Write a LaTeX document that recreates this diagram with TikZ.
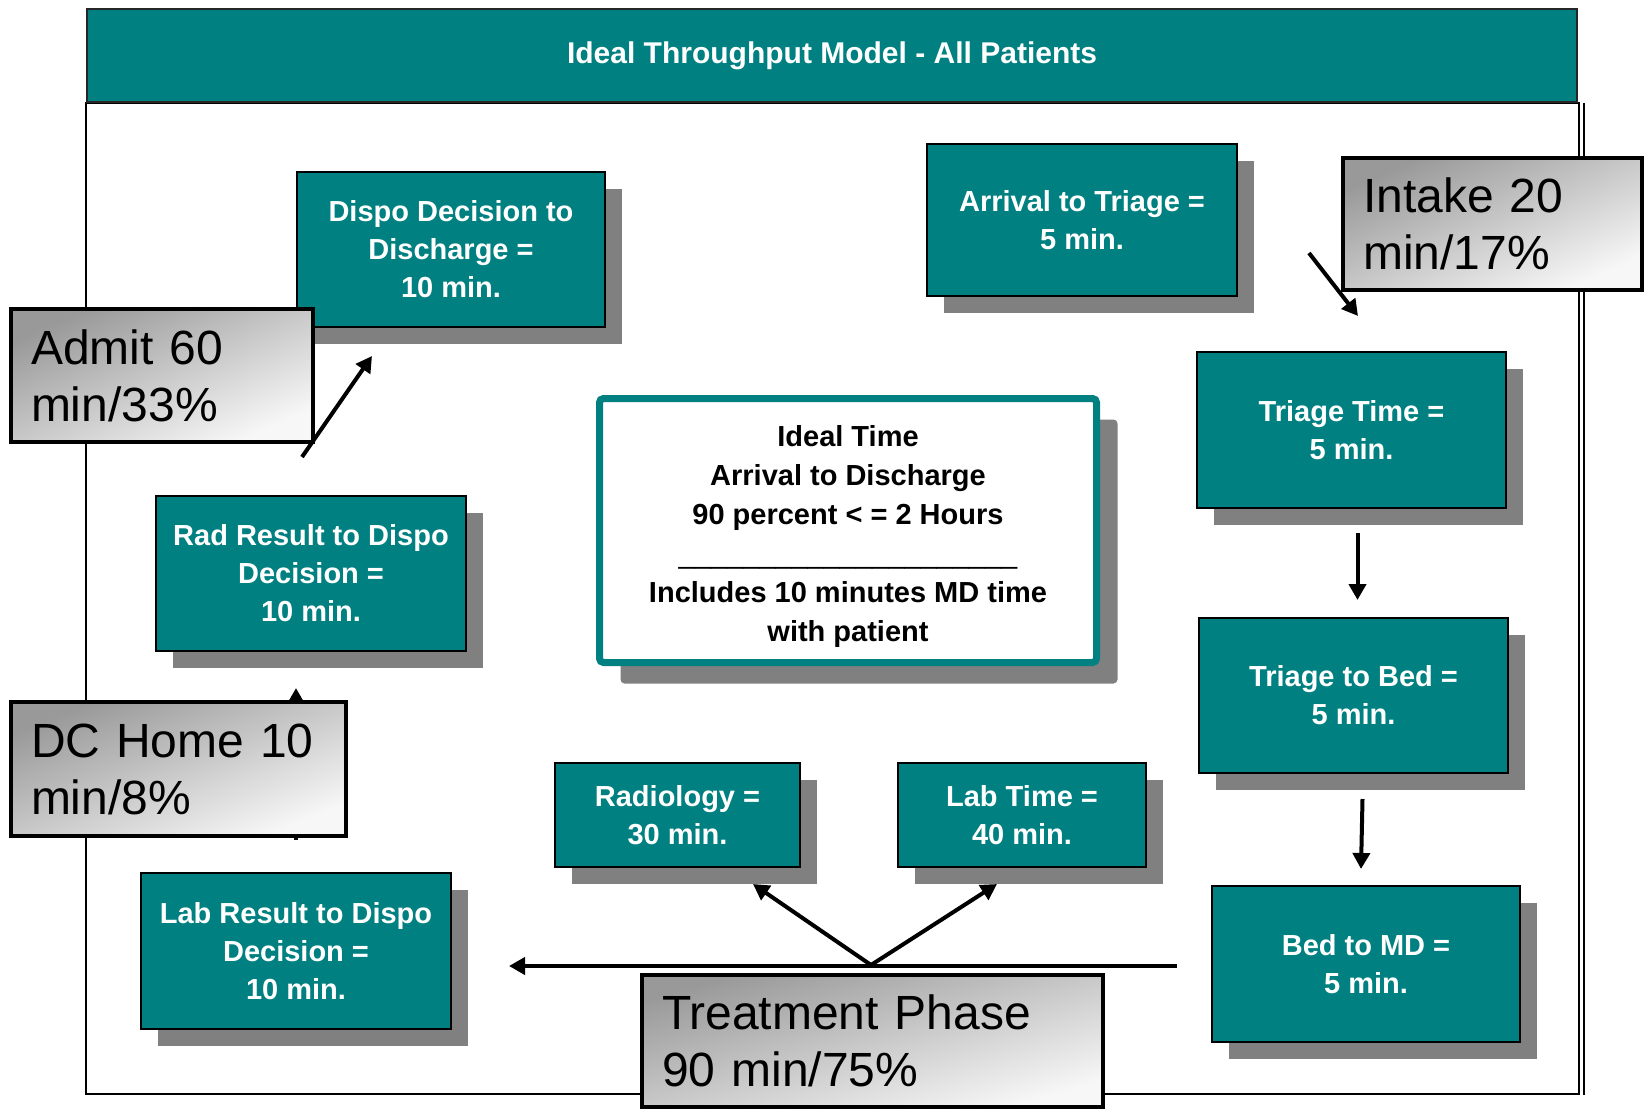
\documentclass[tikz,border=0pt]{standalone}
\usepackage{fontspec}
\setmainfont{Liberation Sans}
\usetikzlibrary{arrows.meta,shadows}

\definecolor{tealfill}{RGB}{0,128,128}
\definecolor{shadowgray}{RGB}{128,128,128}

\tikzset{
  stagebox/.style={draw=black, line width=2pt, fill=tealfill, text=white,
    font=\fontsize{29}{38}\selectfont\bfseries, align=center,
    anchor=north west, inner sep=0pt,
    drop shadow={shadow xshift=17pt, shadow yshift=-17pt, fill=shadowgray, opacity=1}},
  phasebox/.style={draw=black, line width=4pt, top color=black!40, bottom color=black!3,
    shading angle=#1, font=\fontsize{48}{57}\selectfont, align=left,
    anchor=north west, inner xsep=20pt, inner ysep=0pt},
  titlebar/.style={draw=black!85, line width=2pt, fill=tealfill, text=white,
    font=\fontsize{30}{36}\selectfont\bfseries, inner sep=0pt},
  flow/.style={line width=4pt, -{Triangle[length=16pt,width=17pt]}},
}

\begin{document}
\begin{tikzpicture}[x=1pt,y=-1pt]

\useasboundingbox (0,0) rectangle (1645,1110);

% Frame
\draw[line width=2.5pt] (86,103) rectangle (1579,1094);
\draw[line width=1.5pt] (1584,103) -- (1584,1095);

% Title
\node[titlebar, minimum width=1490, minimum height=93] (title) at (832,55.5)
  {Ideal Throughput Model - All Patients};

% Stages
\node[stagebox, minimum width=308, minimum height=155] (dispo) at (296,171)
  {Dispo Decision to\\Discharge =\\10 min.};
\node[stagebox, minimum width=310, minimum height=152] (arrival) at (926,143)
  {Arrival to Triage =\\5 min.};
\node[stagebox, minimum width=309, minimum height=156] (triage) at (1196,351)
  {Triage Time =\\5 min.};
\node[stagebox, minimum width=309, minimum height=155] (tobed) at (1198,617)
  {Triage to Bed =\\5 min.};
\node[stagebox, minimum width=308, minimum height=156] (bedmd) at (1211,885)
  {Bed to MD =\\5 min.};
\node[stagebox, minimum width=310, minimum height=155] (radres) at (155,495)
  {Rad Result to Dispo\\Decision =\\10 min.};
\node[stagebox, minimum width=310, minimum height=156] (labres) at (140,872)
  {Lab Result to Dispo\\Decision =\\10 min.};
\node[stagebox, minimum width=245, minimum height=104] (radio) at (554,762)
  {Radiology =\\30 min.};
\node[stagebox, minimum width=248, minimum height=104] (labtime) at (897,762)
  {Lab Time =\\40 min.};

% Goal
\node[draw=tealfill, line width=7pt, rounded corners=4pt, fill=white,
  font=\fontsize{29}{39}\selectfont\bfseries, align=center, anchor=north west,
  inner sep=0pt, minimum width=497, minimum height=264,
  drop shadow={shadow xshift=21pt, shadow yshift=-21pt, fill=shadowgray, opacity=1}]
  (ideal) at (596,395)
  {\rule{0pt}{34pt}Ideal Time\\Arrival to Discharge\\90 percent < = 2 Hours\\
   {\mdseries\_\_\_\_\_\_\_\_\_\_\_\_\_\_\_\_\_\_\_\_\_}\\
   Includes 10 minutes MD time\\with patient};

% Arrow ends
\coordinate (admitFrom) at (302,457);
\coordinate (admitTo) at (372,356);
\coordinate (intakeFrom) at (1309,253);
\coordinate (intakeTo) at (1358,316);
\coordinate (dcFrom) at (296,840);
\coordinate (dcTo) at (296,688);
\coordinate (treatFrom) at (1177,966);
\coordinate (treatTo) at (509,966);
\coordinate (fork) at (871,965);
\coordinate (radioTo) at (753,884);
\coordinate (labTo) at (997,884);

% Treatment paths
\draw[flow] (dcFrom) -- (dcTo);
\draw[flow] (treatFrom) -- (treatTo);
\draw[flow] (fork) -- (radioTo);
\draw[flow] (fork) -- (labTo);

% Phases
\node[phasebox=24, text width=262, minimum height=133] (admit) at (9,307)
  {Admit 60\\min/33\%};
\node[phasebox=22, text width=295, minimum height=134] (dchome) at (9,700)
  {DC Home 10\\min/8\%};
\node[phasebox=24, text width=259, minimum height=132] (intake) at (1341,156)
  {Intake 20\\min/17\%};
\node[phasebox=16, text width=421, minimum height=132] (treat) at (640,973)
  {Treatment Phase\\90 min/75\%};

\draw[flow] (admitFrom) -- (admitTo);
\draw[flow] (intakeFrom) -- (intakeTo);
\draw[flow] ([xshift=6pt,yshift=-24pt]triage.south) -- ([xshift=4pt,yshift=17pt]tobed.north);
\draw[flow] ([xshift=9pt,yshift=-25pt]tobed.south) -- ([xshift=-5pt,yshift=16pt]bedmd.north);

\end{tikzpicture}
\end{document}
